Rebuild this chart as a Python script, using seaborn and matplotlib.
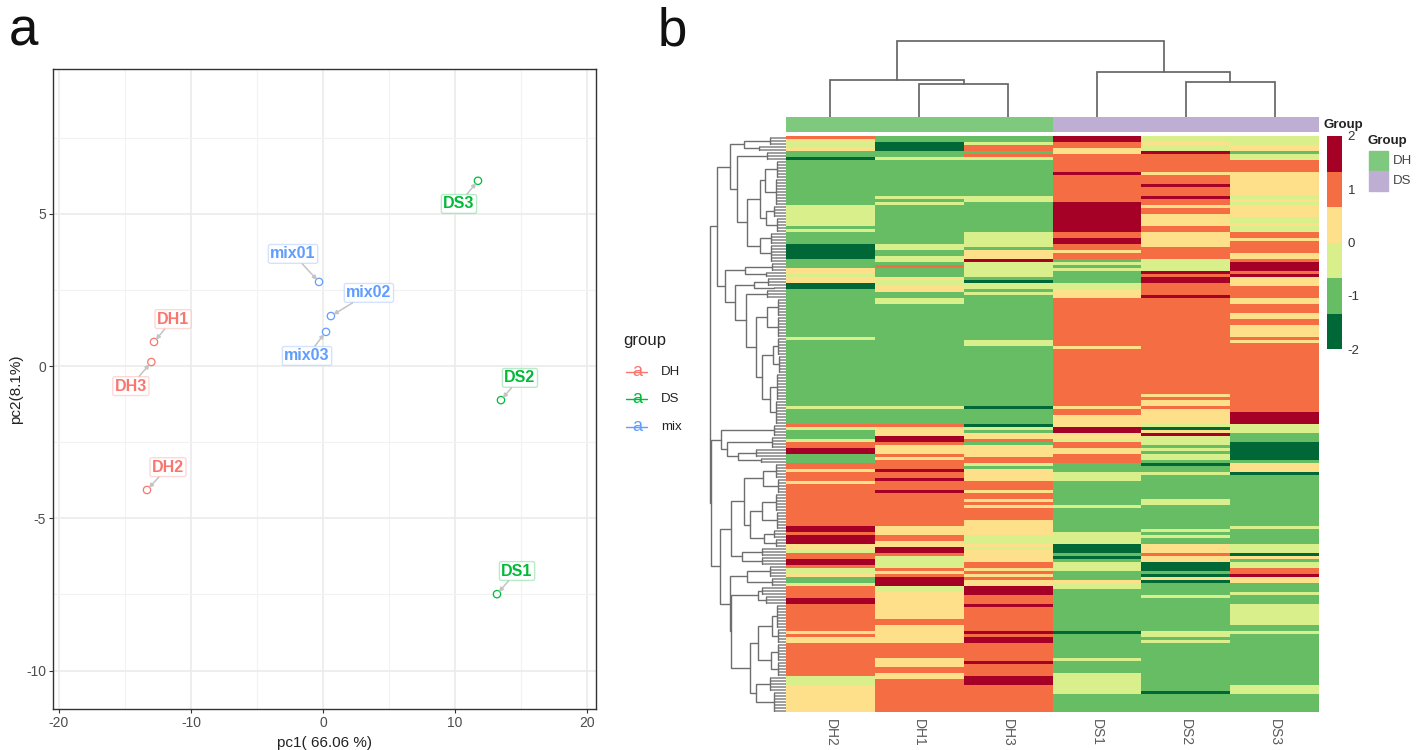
import numpy as np
import pandas as pd
import matplotlib
matplotlib.use('Agg')
import matplotlib.pyplot as plt
from matplotlib.colors import ListedColormap
from matplotlib.lines import Line2D
from matplotlib.patches import Rectangle
import seaborn as sns

# panel a: pca scores
sample_names = ['DH1', 'DH2', 'DH3', 'DS1', 'DS2', 'DS3', 'mix01', 'mix02', 'mix03']
sample_groups = ['DH', 'DH', 'DH', 'DS', 'DS', 'DS', 'mix', 'mix', 'mix']
pc1_values = [-12.8, -13.33, -13.0, 13.18, 13.48, 11.74, -0.3, 0.6, 0.23]
pc2_values = [0.79, -4.07, 0.13, -7.49, -1.12, 6.08, 2.76, 1.64, 1.12]
label_x = [-11.36, -11.74, -14.55, 14.7, 14.92, 10.3, -2.27, 3.48, -1.21]
label_y = [1.54, -3.32, -0.66, -6.73, -0.39, 5.32, 3.68, 2.40, 0.33]
group_names = ['DH', 'DS', 'mix']
group_colors = ['#F8766D', '#00BA38', '#619CFF']

# panel b: heatmap levels, one (level, first row) pair per band
D, G, L, Y, O, R = -1.67, -1.0, -0.33, 0.33, 1.0, 1.67
n_rows = 192
dh2_bands = [(O,0),(Y,1),(L,2),(Y,4),(G,5),(D,7),(G,8),(L,23),(G,30),(L,31),(G,32),(D,36),(G,41),(Y,44),(L,46),(Y,47),(D,49),(G,51),(L,67),(G,68),(L,90),(G,91),(O,96),(L,97),(G,98),(L,101),(O,102),(R,104),(G,106),(O,109),(Y,111),(O,112),(Y,115),(O,116),(R,130),(O,132),(R,133),(Y,136),(L,138),(O,139),(R,141),(O,143),(L,144),(Y,146),(G,147),(L,149),(O,150),(R,154),(O,156),(Y,165),(O,166),(Y,167),(O,169),(L,180),(Y,183)]
dh1_bands = [(G,0),(D,2),(G,5),(L,7),(G,8),(L,20),(G,21),(L,22),(G,23),(L,36),(G,38),(L,40),(G,42),(O,43),(G,44),(Y,47),(L,48),(Y,50),(G,52),(L,54),(G,56),(L,90),(G,91),(O,96),(Y,97),(R,100),(O,102),(Y,103),(O,106),(Y,107),(O,108),(R,111),(O,112),(R,114),(O,115),(R,118),(O,119),(Y,130),(O,133),(Y,135),(R,137),(O,139),(L,140),(O,144),(Y,145),(O,146),(R,147),(L,150),(Y,152),(O,161),(Y,163),(O,169),(Y,174),(O,177),(Y,179),(O,181)]
dh3_bands = [(G,0),(L,2),(O,3),(G,5),(O,6),(L,7),(G,8),(L,20),(G,22),(L,32),(G,37),(Y,38),(R,41),(L,42),(G,47),(D,48),(L,49),(G,51),(L,52),(G,53),(L,68),(G,70),(D,90),(G,91),(D,96),(L,97),(G,98),(Y,99),(O,101),(G,102),(Y,103),(O,107),(L,109),(G,110),(Y,111),(O,115),(Y,118),(O,119),(Y,121),(O,122),(Y,123),(O,124),(Y,128),(L,133),(Y,136),(L,137),(Y,138),(O,142),(Y,144),(O,145),(Y,146),(O,147),(Y,148),(R,150),(O,153),(R,156),(O,157),(R,165),(O,166),(R,167),(O,169),(R,175),(O,176),(R,180),(O,183)]
ds1_bands = [(R,0),(O,2),(Y,4),(O,6),(R,12),(O,13),(R,22),(O,32),(R,34),(O,36),(Y,38),(O,39),(G,41),(L,42),(G,43),(L,44),(G,45),(L,49),(Y,51),(O,54),(Y,70),(O,71),(Y,90),(O,91),(Y,93),(R,97),(Y,99),(L,101),(O,102),(Y,104),(O,106),(G,109),(L,112),(G,115),(L,123),(G,124),(L,132),(D,136),(G,139),(D,140),(G,141),(L,142),(G,145),(Y,148),(L,149),(G,151),(D,165),(G,166),(L,174),(G,175),(L,179),(G,186)]
ds2_bands = [(L,0),(Y,2),(L,3),(R,5),(O,6),(Y,12),(O,13),(R,16),(O,17),(R,20),(O,21),(Y,23),(O,24),(Y,26),(O,30),(Y,32),(O,37),(L,41),(R,45),(O,46),(R,47),(O,49),(R,53),(O,54),(Y,86),(O,87),(Y,88),(O,90),(Y,91),(L,96),(D,97),(Y,98),(R,99),(L,100),(G,103),(L,104),(G,105),(L,106),(G,108),(D,109),(G,110),(L,112),(G,113),(L,121),(G,123),(L,131),(G,132),(L,133),(G,134),(Y,136),(O,139),(Y,140),(D,142),(G,145),(D,146),(Y,147),(D,148),(G,149),(L,153),(G,154),(L,165),(G,167),(L,168),(G,169),(D,185),(G,186)]
ds3_bands = [(L,0),(Y,3),(G,5),(L,6),(O,8),(Y,12),(L,20),(Y,21),(L,22),(Y,23),(L,27),(Y,29),(L,30),(O,32),(Y,34),(O,35),(Y,39),(O,41),(R,42),(O,45),(R,46),(Y,47),(O,50),(Y,54),(O,56),(Y,59),(O,61),(Y,63),(O,67),(Y,68),(O,69),(R,92),(L,96),(G,99),(D,102),(G,108),(Y,109),(D,112),(G,113),(L,130),(G,131),(L,136),(D,139),(Y,140),(G,141),(L,142),(O,144),(R,146),(Y,147),(G,149),(L,152),(G,153),(L,156),(G,163),(L,165),(G,166),(L,183),(G,186)]
heat_columns = ['DH2', 'DH1', 'DH3', 'DS1', 'DS2', 'DS3']
heat_colors = ['#006837', '#66BD63', '#D9EF8B', '#FEE08B', '#F46D43', '#A50026']
column_groups = [0, 0, 0, 1, 1, 1]
column_group_colors = ['#7FC97F', '#BEAED4']
cbar_ticks = [-2, -1, 0, 1, 2]

# dendrograms, read as [height, child, child], [height, (first row, last row)] is a leaf block
col_tree = [75.7, [36.7, 0, [33.4, 1, 2]], [44.7, 3, [34.7, 4, 5]]]
row_tree_top = [69,
    [56,
        [42, [16, (0, 2)], [27, (3, 4)]],
        [49, [19, (5, 7)],
            [39,
                [26, [21, [9, (8, 13)], [10, (14, 22)]], [20, [12, (23, 26)], [9, (27, 31)]]],
                [26, [15, (32, 35)], [15, (36, 41)]]]]],
    [61,
        [41, [14, (42, 44)], [20, (45, 46)]],
        [51, [32, [18, (47, 49)], [12, (50, 50)]],
            [40, [19, (51, 53)],
                [30,
                    [19, [8, (54, 59)], [8, (60, 66)]],
                    [24, [13, [8, (67, 72)], [7, (73, 78)]], [16, [9, (79, 87)], [10, (88, 95)]]]]]]]]
row_tree_bottom = [75,
    [65, [42, [12, (96, 99)]], [59, [41, [14, (100, 103)]], [48, [30, (104, 106)], [25, (107, 108)]]]],
    [66,
        [55,
            [42,
                [23, [10, (109, 113)], [8, (114, 118)]],
                [36, [24, [10, (119, 124)], [9, (125, 130)]], [22, [12, (131, 133)], [10, (134, 136)]]]],
            [44, [24, (137, 139)], [24, (140, 142)]]],
        [56,
            [39, [16, (143, 146)], [14, (147, 149)]],
            [55,
                [28, [24, (150, 152)], [20, (153, 155)]],
                [36,
                    [28, [14, [9, (156, 163)], [8, (164, 168)]], [15, [8, (169, 174)], [8, (175, 179)]]],
                    [30, [16, (180, 184)], [12, (185, 191)]]]]]]]


def band_column(bands):
    column = np.zeros(n_rows)
    for (level, first), following in zip(bands, bands[1:] + [(0, n_rows)]):
        column[first:following[1]] = level
    return column


def axes_px(left, top, right, bottom):
    return fig.add_axes([left / 1416, 1 - bottom / 750, (right - left) / 1416, (bottom - top) / 750])


def row_segments(node, segs, leaves):
    if isinstance(node[1], tuple):
        first, last = node[1]
        if last > first:
            segs.append(([node[0], node[0]], [first + 0.5, last + 0.5]))
        for row in range(first, last + 1):
            leaves.append(([node[0], 0], [row + 0.5, row + 0.5]))
        return (first + last + 1) / 2, node[0]
    if len(node) == 2:
        return row_segments(node[1], segs, leaves)
    y_a, h_a = row_segments(node[1], segs, leaves)
    y_b, h_b = row_segments(node[2], segs, leaves)
    segs.append(([h_a, node[0], node[0], h_b], [y_a, y_a, y_b, y_b]))
    return (y_a + y_b) / 2, node[0]


def col_segments(node, segs):
    if not isinstance(node, list):
        return node + 0.5, 0
    x_a, h_a = col_segments(node[1], segs)
    x_b, h_b = col_segments(node[2], segs)
    segs.append(([x_a, x_a, x_b, x_b], [h_a, node[0], node[0], h_b]))
    return (x_a + x_b) / 2, node[0]


sns.set_theme(style='white')
plt.rcParams['font.family'] = ['Liberation Sans', 'DejaVu Sans']
plt.rcParams['axes.unicode_minus'] = False
fig = plt.figure(figsize=(14.16, 7.5), dpi=100)

# ---- panel a
ax = axes_px(53, 69, 596, 709)
scores = pd.DataFrame({'pc1': pc1_values, 'pc2': pc2_values, 'group': sample_groups})
palette = dict(zip(group_names, group_colors))
sns.scatterplot(data=scores, x='pc1', y='pc2', hue='group', palette=palette, s=28, legend=False, ax=ax, zorder=3)
points = ax.collections[0]
points.set_edgecolors(points.get_facecolors())
points.set_facecolors('none')
points.set_linewidth(0.9)
ax.set_xlim(-20.45, 20.68)
ax.set_ylim(-11.26, 9.75)
ax.set_xticks([-20, -10, 0, 10, 20])
ax.set_yticks([-10, -5, 0, 5])
ax.set_xticks([-15, -5, 5, 15], minor=True)
ax.set_yticks([-7.5, -2.5, 2.5, 7.5], minor=True)
ax.grid(True, which='major', color='#EBEBEB', lw=1.2)
ax.grid(True, which='minor', color='#F2F2F2', lw=0.8)
ax.set_axisbelow(True)
ax.tick_params(axis='both', which='major', length=3, width=0.8, color='#333333', labelsize=10, labelcolor='#4D4D4D', bottom=True, left=True, pad=2)
ax.tick_params(axis='both', which='minor', length=0)
for spine in ax.spines.values():
    spine.set_color('#333333')
    spine.set_linewidth(1.0)
ax.set_xlabel('pc1( 66.06 %)', fontsize=11, color='#222222', labelpad=4)
ax.set_ylabel('pc2(8.1%)', fontsize=11, color='#222222', labelpad=2)

for name, group, px, py, lx, ly in zip(sample_names, sample_groups, pc1_values, pc2_values, label_x, label_y):
    col = palette[group]
    ax.annotate(name, xy=(px, py), xytext=(lx, ly), fontsize=11.5, fontweight='bold', color=col, ha='center', va='center', zorder=4,
                bbox=dict(boxstyle='round,pad=0.12', fc='white', ec=matplotlib.colors.to_rgba(col, 0.28), lw=1),
                arrowprops=dict(arrowstyle='-|>', color='#C4C4C4', lw=1.1, shrinkA=0, shrinkB=2, mutation_scale=6))

fig.text(623 / 1416, 1 - 341 / 750, 'group', fontsize=12, color='#222222', va='center')
for i, (name, col) in enumerate(zip(group_names, group_colors)):
    key_y = 1 - (372 + 27.5 * i) / 750
    fig.add_artist(Line2D([626 / 1416, 647 / 1416], [key_y, key_y], color=col, lw=1))
    fig.text(637 / 1416, key_y + 0.001, 'a', fontsize=13, color=col, ha='center', va='center')
    fig.text(661 / 1416, key_y, name, fontsize=9.5, color='#222222', va='center')

fig.text(9 / 1416, 1 - 46 / 750, 'a', fontsize=38, color='#111111')
fig.text(658 / 1416, 1 - 46 / 750, 'b', fontsize=38, color='#111111')

# ---- panel b
heat_ax = axes_px(786, 136, 1319, 712)
cbar_ax = axes_px(1327, 136, 1342, 349)
heat_table = pd.DataFrame(
    np.column_stack([band_column(b) for b in [dh2_bands, dh1_bands, dh3_bands, ds1_bands, ds2_bands, ds3_bands]]),
    columns=heat_columns)
sns.heatmap(heat_table, ax=heat_ax, cbar_ax=cbar_ax, cmap=ListedColormap(heat_colors), vmin=-2, vmax=2,
            yticklabels=False, cbar_kws={'ticks': cbar_ticks})
heat_ax.set_yticks([])
heat_ax.tick_params(axis='x', length=0, pad=5, labelsize=10, labelcolor='#5A5A5A')
plt.setp(heat_ax.get_xticklabels(), rotation=270, ha='center', va='top')
cbar_ax.tick_params(length=0, labelsize=9.5, labelcolor='#333333', pad=4)
cbar_ax.set_yticklabels(['-2', '-1', '0', '1', '2'])

bar_ax = axes_px(786, 117, 1319, 131.5)
sns.heatmap(pd.DataFrame([column_groups], columns=heat_columns), ax=bar_ax, cmap=ListedColormap(column_group_colors),
            vmin=0, vmax=1, cbar=False, xticklabels=False, yticklabels=False)

top_ax = axes_px(786, 36, 1319, 117)
segs = []
col_segments(col_tree, segs)
for xs, ys in segs:
    top_ax.plot(xs, ys, color='#666666', lw=1.25, solid_joinstyle='miter')
top_ax.set_xlim(0, 6)
top_ax.set_ylim(0, 81)
top_ax.axis('off')

left_ax = axes_px(705, 136, 786, 712)
segs, leaves = [], []
y_a, _ = row_segments(row_tree_top, segs, leaves)
y_b, _ = row_segments(row_tree_bottom, segs, leaves)
segs.append(([69, 76, 76, 75], [y_a, y_a, y_b, y_b]))
for xs, ys in leaves:
    left_ax.plot(xs, ys, color='#9E9E9E', lw=1.4, solid_capstyle='butt')
for xs, ys in segs:
    left_ax.plot(xs, ys, color='#6E6E6E', lw=1.0, solid_joinstyle='miter')
left_ax.set_xlim(81, 0)
left_ax.set_ylim(n_rows, 0)
left_ax.axis('off')

fig.text(1324 / 1416, 1 - 125 / 750, 'Group', fontsize=9.5, fontweight='bold', color='#222222', va='center')
fig.text(1368 / 1416, 1 - 141 / 750, 'Group', fontsize=9.5, fontweight='bold', color='#222222', va='center')
for i, (name, col) in enumerate(zip(['DH', 'DS'], column_group_colors)):
    fig.add_artist(Rectangle((1369 / 1416, 1 - (171 + 19.5 * i) / 750), 19 / 1416, 19.5 / 750, color=col, transform=fig.transFigure))
    fig.text(1393 / 1416, 1 - (161 + 20 * i) / 750, name, fontsize=9.5, color='#444444', va='center')

fig.savefig('out.png', dpi=100)
